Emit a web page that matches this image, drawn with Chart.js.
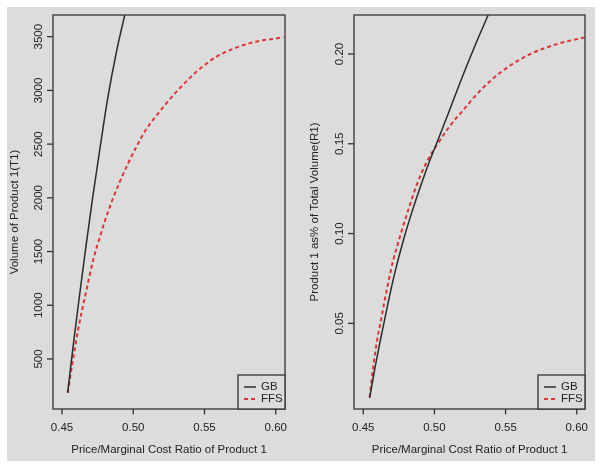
<!DOCTYPE html>
<html>
<head>
<meta charset="utf-8">
<script src="https://cdn.jsdelivr.net/npm/chart.js@4"></script>
<style>
  body { margin: 0; background: #fff; }
  #panel { position: absolute; left: 7px; top: 7px; width: 588px; height: 454px; background: #dcdcdc; }
  .box { position: absolute; top: 0; }
</style>
</head>
<body>
<div id="panel"></div>
<div class="box" style="left:0"><canvas id="left" width="300" height="469"></canvas></div>
<div class="box" style="left:300px"><canvas id="right" width="301" height="469"></canvas></div>
<script>
// Left panel: volume of product 1
const gbVolX = [0.4540, 0.4575, 0.4619, 0.4665, 0.4713, 0.4765, 0.4819, 0.4885, 0.4941];
const gbVolY = [185, 584, 1049, 1515, 1980, 2446, 2912, 3377, 3703];
const ffsVolX = [0.4540, 0.4573, 0.4613, 0.4667, 0.4725, 0.4760, 0.4800, 0.4852, 0.4906, 0.4964, 0.5023, 0.5082, 0.5164, 0.5304, 0.5445, 0.5586, 0.5820, 0.6054];
const ffsVolY = [185, 460, 770, 1112, 1452, 1608, 1780, 1975, 2150, 2320, 2477, 2620, 2768, 2989, 3175, 3315, 3440, 3495];

// Right panel: product 1 share of total volume
const gbShareX = [0.4545, 0.4582, 0.4629, 0.4676, 0.4723, 0.4781, 0.4840, 0.4899, 0.4957, 0.5027, 0.5098, 0.5180, 0.5274, 0.5379];
const gbShareY = [0.0085, 0.0250, 0.0440, 0.0620, 0.0785, 0.0960, 0.1115, 0.1255, 0.1385, 0.1525, 0.1670, 0.1840, 0.2025, 0.2220];
const ffsShareX = [0.4545, 0.4570, 0.4594, 0.4629, 0.4665, 0.4711, 0.4758, 0.4816, 0.4876, 0.4946, 0.5027, 0.5110, 0.5203, 0.5321, 0.5461, 0.5649, 0.5860, 0.6059];
const ffsShareY = [0.0088, 0.0259, 0.0389, 0.0537, 0.0686, 0.0853, 0.0983, 0.1131, 0.1272, 0.1398, 0.1505, 0.1600, 0.1688, 0.1795, 0.1895, 0.1990, 0.2055, 0.2093];

// Tick labels
const xTicks = [0.45, 0.50, 0.55, 0.60];
const volTicks = [500, 1000, 1500, 2000, 2500, 3000, 3500];
const shareTicks = [0.05, 0.10, 0.15, 0.20];

const seriesNames = ["GB", "FFS"];
const xTitle = "Price/Marginal Cost Ratio of Product 1";

const FONT = '11.5px "Liberation Sans", Arial, sans-serif';
const INK = "#222";

function pts(xs, ys) {
    return xs.map((x, i) => ({ x: x, y: ys[i] }));
}

function line(ctx, x1, y1, x2, y2) {
    ctx.beginPath();
    ctx.moveTo(x1, y1);
    ctx.lineTo(x2, y2);
    ctx.stroke();
}

// Draws the R style box, ticks, labels, titles and legend
const rFrame = {
    id: "rFrame",
    afterDatasetsDraw(chart, args, opts) {
        const ctx = chart.ctx;
        const a = chart.chartArea;
        const sx = chart.scales.x, sy = chart.scales.y;
        ctx.save();
        ctx.strokeStyle = "#333";
        ctx.lineWidth = 1.3;
        ctx.strokeRect(a.left, a.top, a.right - a.left, a.bottom - a.top);

        ctx.fillStyle = INK;
        ctx.font = FONT;
        ctx.textAlign = "center";
        ctx.textBaseline = "middle";

        // x axis
        opts.xTicks.forEach(v => {
            const px = sx.getPixelForValue(v);
            line(ctx, px, a.bottom, px, a.bottom + 5.5);
            ctx.fillText(v.toFixed(2), px, a.bottom + 19);
        });
        ctx.fillText(opts.xTitle, (a.left + a.right) / 2, a.bottom + 41);

        // y axis
        opts.yTicks.forEach(v => {
            const py = sy.getPixelForValue(v);
            line(ctx, a.left, py, a.left - 6, py);
            ctx.save();
            ctx.translate(a.left - 14, py);
            ctx.rotate(-Math.PI / 2);
            ctx.fillText(opts.yDigits ? v.toFixed(opts.yDigits) : String(v), 0, 0);
            ctx.restore();
        });
        ctx.save();
        ctx.translate(15, (a.top + a.bottom) / 2);
        ctx.rotate(-Math.PI / 2);
        ctx.fillText(opts.yTitle, 0, 0);
        ctx.restore();

        // legend
        const w = 47, h = 34;
        const lx = a.right - w, ly = a.bottom - h;
        ctx.fillStyle = "#dcdcdc";
        ctx.fillRect(lx, ly, w, h);
        ctx.strokeStyle = "#333";
        ctx.lineWidth = 1.3;
        ctx.strokeRect(lx, ly, w, h);
        chart.data.datasets.forEach((ds, i) => {
            const ry = ly + 12 + i * 12;
            ctx.strokeStyle = ds.borderColor;
            ctx.lineWidth = ds.borderWidth;
            ctx.setLineDash(ds.borderDash || []);
            line(ctx, lx + 6, ry, lx + 18, ry);
            ctx.setLineDash([]);
            ctx.fillStyle = INK;
            ctx.textAlign = "left";
            ctx.fillText(ds.label, lx + 23, ry);
        });
        ctx.restore();
    }
};

function makeChart(id, gb, ffs, xr, yr, pad, frame) {
    return new Chart(document.getElementById(id), {
        type: "scatter",
        data: {
            datasets: [
                { label: seriesNames[0], data: gb, showLine: true, borderColor: "#2a2a2a",
                  borderWidth: 1.5, pointRadius: 0, cubicInterpolationMode: "monotone" },
                { label: seriesNames[1], data: ffs, showLine: true, borderColor: "#dd3535",
                  borderWidth: 2, borderDash: [4, 3], pointRadius: 0, cubicInterpolationMode: "monotone" }
            ]
        },
        options: {
            responsive: false,
            animation: false,
            layout: { padding: pad },
            scales: {
                x: { type: "linear", display: false, min: xr[0], max: xr[1] },
                y: { type: "linear", display: false, min: yr[0], max: yr[1] }
            },
            plugins: {
                legend: { display: false },
                tooltip: { enabled: false },
                rFrame: frame
            }
        },
        plugins: [rFrame]
    });
}

makeChart("left", pts(gbVolX, gbVolY), pts(ffsVolX, ffsVolY),
    [0.4437, 0.6065], [34, 3702],
    { left: 53, right: 15, top: 15, bottom: 60 },
    { xTicks: xTicks, yTicks: volTicks, yDigits: 0, xTitle: xTitle, yTitle: "Volume of Product 1(T1)" });

makeChart("right", pts(gbShareX, gbShareY), pts(ffsShareX, ffsShareY),
    [0.4435, 0.6058], [0.0023, 0.2217],
    { left: 54, right: 16, top: 15, bottom: 60 },
    { xTicks: xTicks, yTicks: shareTicks, yDigits: 2, xTitle: xTitle, yTitle: "Product 1 as% of Total Volume(R1)" });
</script>
</body>
</html>
